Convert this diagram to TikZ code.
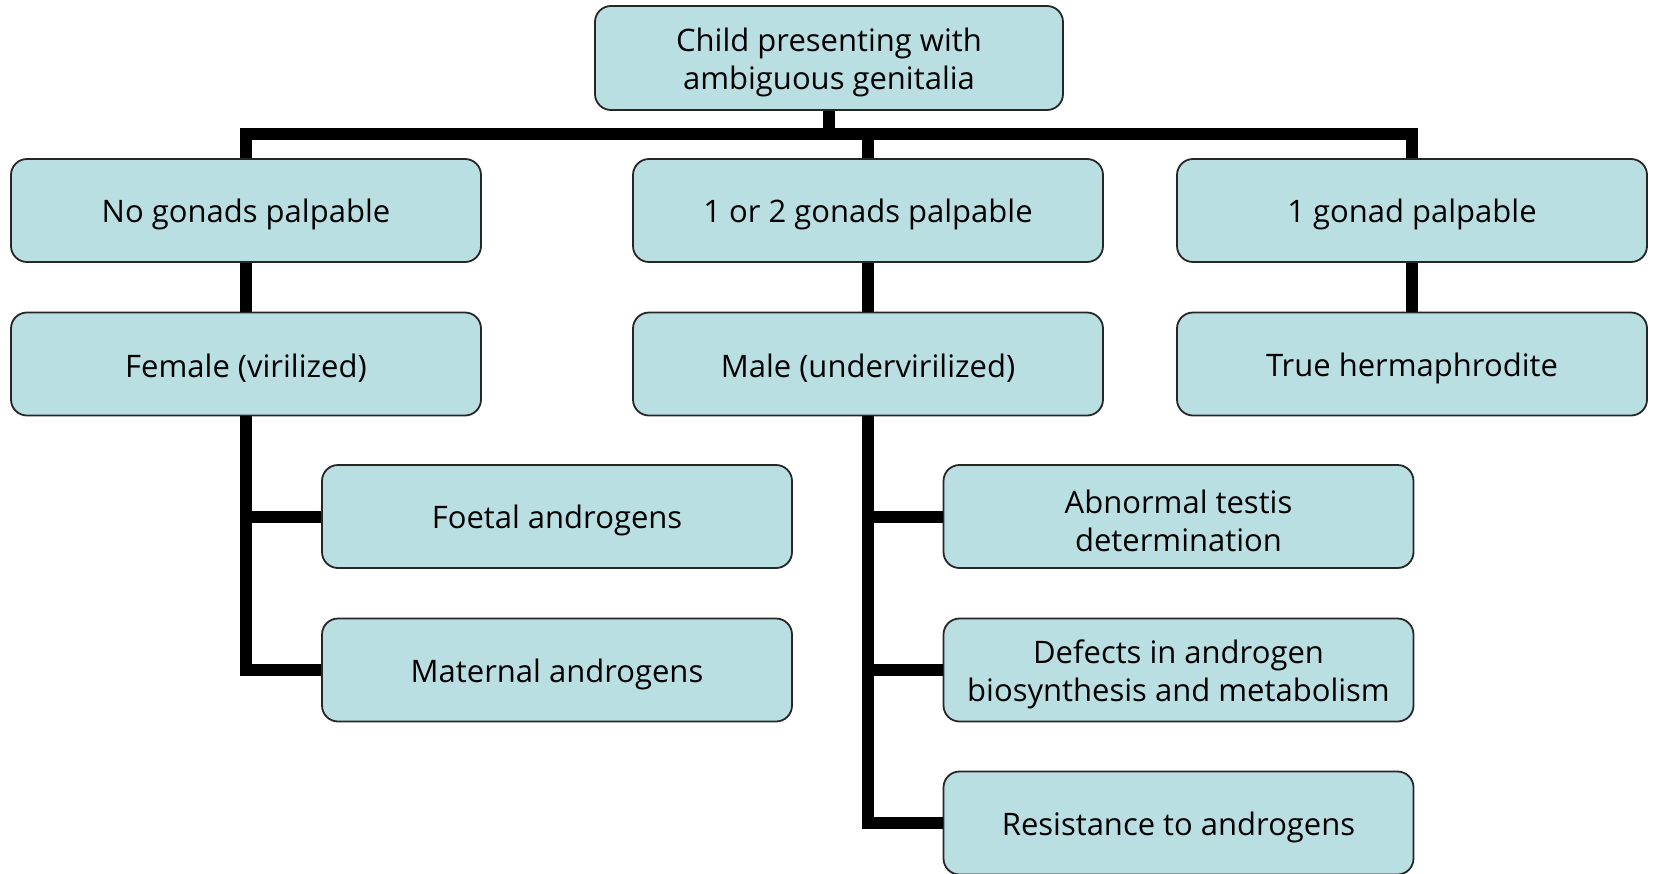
\documentclass[tikz,border=0pt]{standalone}
\usepackage{fontspec}
\setmainfont{Open Sans}
\begin{document}
\begin{tikzpicture}[x=1pt,y=-1pt,
  box/.style={draw=black!85, line width=1.8pt, fill=boxfill, rounded corners=16pt,
    minimum width=470pt, minimum height=103pt, inner sep=0pt,
    label={[caption]center:#1}},
  caption/.style={align=center, font=\fontsize{31}{38}\selectfont, inner sep=0pt, yshift=-4pt},
  link/.style={line width=12pt, draw=black}]
\definecolor{boxfill}{RGB}{186,223,227}
\useasboundingbox (0,0) rectangle (1653,873);
% boxes, each with its caption
\node[box={Child presenting with\\ambiguous genitalia}, minimum width=468pt, minimum height=104pt] (top) at (829,58) {};
\node[box={No gonads palpable}] (none) at (246,210.5) {};
\node[box={1 or 2 gonads palpable}] (some) at (868,210.5) {};
\node[box={1 gonad palpable}] (one)  at (1412,210.5) {};
\node[box={Female (virilized)}] (fem)  at (246,364) {};
\node[box={Male (undervirilized)}] (male) at (868,364) {};
\node[box={True hermaphrodite}] (herm) at (1412,364) {};
\node[box={Foetal androgens}] (foet) at (557,516.5) {};
\node[box={Maternal androgens}] (mat)  at (557,670) {};
\node[box={Abnormal testis\\determination}] (abn)  at (1178.5,516.5) {};
\node[box={Defects in androgen\\biosynthesis and metabolism}] (def)  at (1178.5,670) {};
\node[box={Resistance to androgens}] (res)  at (1178.5,823) {};
% connectors
\coordinate (bus) at (829,134);
\draw[link] (top.south) -- (bus);
\draw[link] (none.north) |- (bus) -| (one.north);
\draw[link] (bus -| some.north) -- (some.north);
\draw[link] (none.south) -- (fem.north);
\draw[link] (some.south) -- (male.north);
\draw[link] (one.south) -- (herm.north);
\draw[link] (fem.south) |- (foet.west);
\draw[link] (fem.south) |- (mat.west);
\draw[link] (male.south) |- (abn.west);
\draw[link] (male.south) |- (def.west);
\draw[link] (male.south) |- (res.west);
\end{tikzpicture}
\end{document}
